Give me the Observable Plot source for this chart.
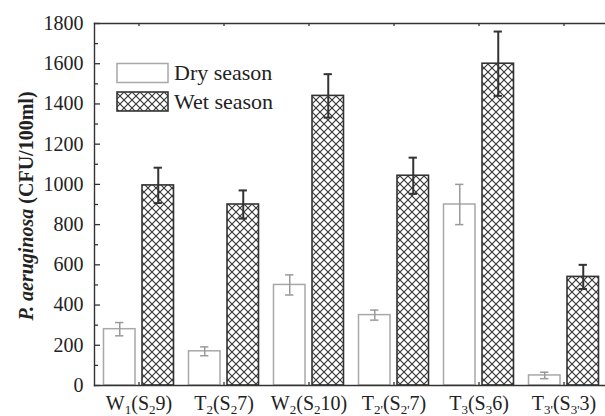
<!DOCTYPE html>
<html><head><meta charset="utf-8">
<script src="https://cdn.jsdelivr.net/npm/d3@7"></script>
<script src="https://cdn.jsdelivr.net/npm/@observablehq/plot@0.6"></script>
<style>
body{margin:0;background:#fff}
#chart svg{display:block; font-family:"Liberation Serif", "Times New Roman", serif !important;}
#chart svg text{font-family:"Liberation Serif", "Times New Roman", serif !important;}
</style>
</head><body><div id="chart"></div>
<script>
const categories = ["W1(S29)", "T2(S27)", "W2(S210)", "T2'(S2'7)", "T3(S36)", "T3'(S3'3)"];
const tickLabels = ["W_{1}(S_{2}9)", "T_{2}(S_{2}7)", "W_{2}(S_{2}10)", "T_{2'}(S_{2'}7)", "T_{3}(S_{3}6)", "T_{3'}(S_{3'}3)"];
const seasons = ["Dry season", "Wet season"];
const dryValues = [280, 170, 500, 350, 900, 50];
const dryErrors = [33, 22, 50, 25, 100, 16];
const wetValues = [995, 900, 1440, 1043, 1600, 540];
const wetErrors = [88, 70, 108, 90, 160, 60];
const yTicks = d3.range(0, 1801, 200);
const yMinorTicks = d3.range(100, 1800, 200);
const yLabelItalic = "P. aeruginosa";
const yLabelRest = " (CFU/100ml)";

const dryRows = categories.map((c, i) => ({cat: c, value: dryValues[i], err: dryErrors[i]}));
const wetRows = categories.map((c, i) => ({cat: c, value: wetValues[i], err: wetErrors[i]}));

const DRY = "#a8a8a8", DRYERR = "#9a9a9a", DARK = "#333";
const capDry = {insetLeft: 19.1, insetRight: 57.6};
const capWet = {insetLeft: 57.6, insetRight: 19.1};
const W = 605, H = 416, ML = 94, MT = 23, MB = 31;
const frameW = W - ML, frameH = H - MT - MB;

const chart = Plot.plot({
  width: W, height: H,
  marginLeft: ML, marginRight: 0, marginTop: MT, marginBottom: MB,
  style: {fontFamily: "Liberation Serif", fontSize: "20px", color: "#222", background: "#fff"},
  x: {type: "band", domain: categories, range: [94, 608], padding: 0, label: null},
  y: {domain: [0, 1800], label: null},
  marks: [
    Plot.barY(dryRows, {x: "cat", y: "value", fill: "white", stroke: DRY, strokeWidth: 1.5, insetLeft: 7.5, insetRight: 46}),
    Plot.barY(wetRows, {x: "cat", y: "value", fill: "url(#xhatch)", stroke: DARK, strokeWidth: 1.6, insetLeft: 46, insetRight: 7.5}),
    Plot.ruleX(dryRows, {x: "cat", y1: d => d.value - d.err, y2: d => d.value + d.err, dx: -19.25, stroke: DRYERR, strokeWidth: 1.5}),
    Plot.tickY(dryRows, {x: "cat", y: d => d.value + d.err, ...capDry, stroke: DRYERR, strokeWidth: 1.5}),
    Plot.tickY(dryRows, {x: "cat", y: d => d.value - d.err, ...capDry, stroke: DRYERR, strokeWidth: 1.5}),
    Plot.ruleX(wetRows, {x: "cat", y1: d => d.value - d.err, y2: d => d.value + d.err, dx: 19.25, stroke: DARK, strokeWidth: 2}),
    Plot.tickY(wetRows, {x: "cat", y: d => d.value + d.err, ...capWet, stroke: DARK, strokeWidth: 2}),
    Plot.tickY(wetRows, {x: "cat", y: d => d.value - d.err, ...capWet, stroke: DARK, strokeWidth: 2}),
    Plot.frame({anchor: "left", stroke: DARK, strokeWidth: 1.4}),
    Plot.frame({anchor: "top", stroke: DARK, strokeWidth: 1.4}),
    Plot.frame({anchor: "bottom", stroke: DARK, strokeWidth: 1.4}),
    // inward ticks
    Plot.ruleY(yTicks, {y: d => d, insetRight: frameW - 6, stroke: DARK, strokeWidth: 1.3}),
    Plot.ruleY(yMinorTicks, {y: d => d, insetRight: frameW - 4, stroke: DARK, strokeWidth: 1.3}),
    Plot.ruleX(categories, {x: d => d, insetTop: frameH - 3, stroke: DARK, strokeWidth: 1.3}),
    Plot.ruleX(categories, {x: d => d, insetBottom: frameH - 3, stroke: DARK, strokeWidth: 1.3}),
    Plot.axisY({ticks: yTicks, tickSize: 0, tickPadding: 11, tickFormat: "d", label: null}),
    Plot.axisX({tickSize: 0, tickPadding: 10.5, tickFormat: d => tickLabels[categories.indexOf(d)], label: null})
  ]
});

const svg = d3.select(chart).attr("font-family", "Liberation Serif");
// hatch pattern
const defs = svg.insert("defs", ":first-child");
const pat = defs.append("pattern").attr("id", "xhatch").attr("patternUnits", "userSpaceOnUse")
  .attr("width", 8).attr("height", 8).attr("x", 0).attr("y", 0);
pat.append("rect").attr("width", 8).attr("height", 8).attr("fill", "white");
pat.append("path").attr("d", "M-2,-2L10,10M10,-2L-2,10").attr("stroke", DARK).attr("stroke-width", 1.1).attr("fill", "none");

// x tick labels with subscripts
svg.selectAll('g[aria-label="x-axis tick label"] text').each(function() {
  const el = d3.select(this);
  const str = el.text();
  el.text(null);
  const parts = str.split(/(_\{[^}]*\})/).filter(s => s.length);
  let shifted = false;
  parts.forEach(p => {
    const sub = p.startsWith("_{");
    const t = el.append("tspan").text(sub ? p.slice(2, -1) : p);
    if (sub) { t.attr("font-size", "13px").attr("dy", shifted ? 0 : 4); shifted = true; }
    else if (shifted) { t.attr("dy", -4); shifted = false; }
  });
});

// y label
const yl = svg.append("text").attr("transform", `translate(33,206) rotate(-90)`)
  .attr("text-anchor", "middle").attr("font-weight", "bold").attr("font-size", "20px").attr("fill", "#222");
yl.append("tspan").attr("font-style", "italic").text(yLabelItalic);
yl.append("tspan").text(yLabelRest);

// legend
const lg = svg.append("g").attr("text-anchor", "start");
lg.append("rect").attr("x", 117).attr("y", 63.5).attr("width", 51).attr("height", 19)
  .attr("fill", "white").attr("stroke", DRY).attr("stroke-width", 1.5);
lg.append("rect").attr("x", 117).attr("y", 92).attr("width", 51).attr("height", 19)
  .attr("fill", "url(#xhatch)").attr("stroke", DARK).attr("stroke-width", 1.6);
lg.append("text").attr("x", 174).attr("y", 80).attr("text-anchor", "start").attr("font-size", "22px").attr("fill", "#222").text(seasons[0]);
lg.append("text").attr("x", 174).attr("y", 108.5).attr("text-anchor", "start").attr("font-size", "22px").attr("fill", "#222").text(seasons[1]);

document.getElementById("chart").appendChild(chart);
</script>
</body></html>
